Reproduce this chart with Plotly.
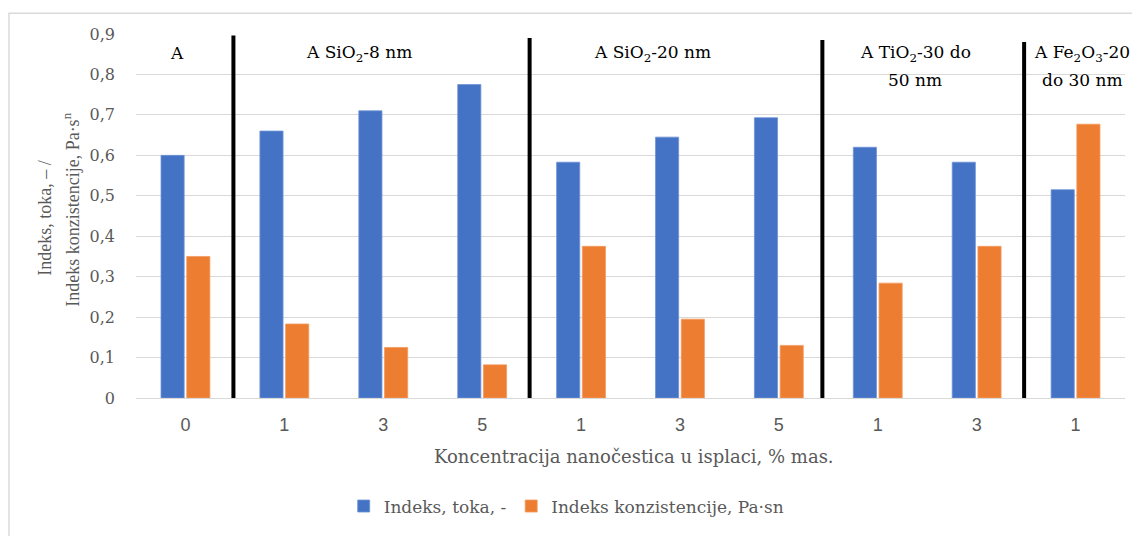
import plotly.graph_objects as go

# ---- data ----
categories = ["0", "1", "3", "5", "1", "3", "5", "1", "3", "1"]
indeks_toka = [0.60, 0.66, 0.71, 0.775, 0.583, 0.645, 0.693, 0.62, 0.583, 0.515]
indeks_konz = [0.35, 0.183, 0.125, 0.082, 0.375, 0.195, 0.13, 0.284, 0.375, 0.677]
y_tick_vals = [0, 0.1, 0.2, 0.3, 0.4, 0.5, 0.6, 0.7, 0.8, 0.9]
y_tick_text = ["0", "0,1", "0,2", "0,3", "0,4", "0,5", "0,6", "0,7", "0,8", "0,9"]
group_labels = ["A", "A SiO<sub>2</sub>-8 nm", "A SiO<sub>2</sub>-20 nm",
                "A TiO<sub>2</sub>-30 do", "A Fe<sub>2</sub>O<sub>3</sub>-20"]
group_labels2 = ["", "", "", "50 nm", "do 30 nm"]
group_label_x = [-0.09, 1.75, 4.72, 7.38, 9.07]
separator_x = [0.485, 3.48, 6.44, 8.48]
separator_top = [0.896, 0.89, 0.885, 0.88]
separator_bottom = [-0.009, -0.002, 0.0, -0.004]

serif = "DejaVu Serif, Liberation Serif, serif"
serif_narrow = "Liberation Serif, Times New Roman, serif"
sans = "Liberation Sans, Arial, sans-serif"
grey = "#595959"

x_idx = list(range(len(categories)))

fig = go.Figure()
fig.add_trace(go.Bar(x=x_idx, y=indeks_toka, name="Indeks, toka, -",
                     marker=dict(color="#4472C4", line=dict(color="#6f93d6", width=0.8))))
fig.add_trace(go.Bar(x=x_idx, y=indeks_konz, name="Indeks konzistencije, Pa·sn",
                     marker=dict(color="#ED7D31", line=dict(color="#f29a5e", width=0.8))))

shapes = []
for xs, yt, yb in zip(separator_x, separator_top, separator_bottom):
    shapes.append(dict(type="line", xref="x", yref="y", x0=xs, x1=xs, y0=yb, y1=yt,
                       line=dict(color="black", width=4)))
# chart border
shapes.append(dict(type="rect", xref="paper", yref="paper", x0=-0.1284, x1=1.08,
                   y0=-0.45, y1=1.0573, line=dict(color="#d9d9d9", width=1.5), layer="below"))

annotations = []
for lab, lab2, gx in zip(group_labels, group_labels2, group_label_x):
    annotations.append(dict(x=gx, y=0.853, xref="x", yref="y", text=lab, showarrow=False,
                            font=dict(family=serif, size=17, color="black"), yanchor="middle"))
    if lab2:
        annotations.append(dict(x=gx, y=0.787, xref="x", yref="y", text=lab2, showarrow=False,
                                font=dict(family=serif, size=17, color="black"), yanchor="middle"))

# y-axis title (two lines, rotated)
annotations.append(dict(x=-0.092, y=0.4928, xref="paper", yref="paper", text="Indeks, toka, – /",
                        textangle=-90, showarrow=False, xanchor="center", yanchor="middle",
                        font=dict(family=serif_narrow, size=18, color=grey)))
annotations.append(dict(x=-0.0647, y=0.517, xref="paper", yref="paper",
                        text="Indeks konzistencije, Pa·s<sup>n</sup>",
                        textangle=-90, showarrow=False, xanchor="center", yanchor="middle",
                        font=dict(family=serif_narrow, size=18, color=grey)))
# x-axis title
annotations.append(dict(x=0.5035, y=-0.1617, xref="paper", yref="paper",
                        text="Koncentracija nanočestica u isplaci, % mas.",
                        showarrow=False, xanchor="center", yanchor="middle",
                        font=dict(family=serif, size=18, color=grey)))

fig.update_layout(
    width=1132, height=528,
    margin=dict(l=128, r=15, t=26, b=135),
    paper_bgcolor="white", plot_bgcolor="white",
    barmode="group", bargap=0.48, bargroupgap=0.1,
    shapes=shapes, annotations=annotations,
    legend=dict(orientation="h", x=0.21, xanchor="left", y=-0.298, yanchor="middle",
                font=dict(family=serif, size=17, color=grey), traceorder="normal",
                itemwidth=30),
    xaxis=dict(range=[-0.5, 9.5], tickvals=x_idx, ticktext=categories, showgrid=False,
               showline=True, linecolor="#d9d9d9", linewidth=1, ticks="",
               tickfont=dict(family=sans, size=18, color=grey), ticklabelstandoff=10,
               zeroline=False),
    yaxis=dict(range=[0, 0.9], tickvals=y_tick_vals, ticktext=y_tick_text,
               showgrid=True, gridcolor="#d9d9d9", gridwidth=1, zeroline=False,
               tickfont=dict(family=serif, size=16, color=grey), ticklabelstandoff=20),
)

fig.write_html("out.html")
